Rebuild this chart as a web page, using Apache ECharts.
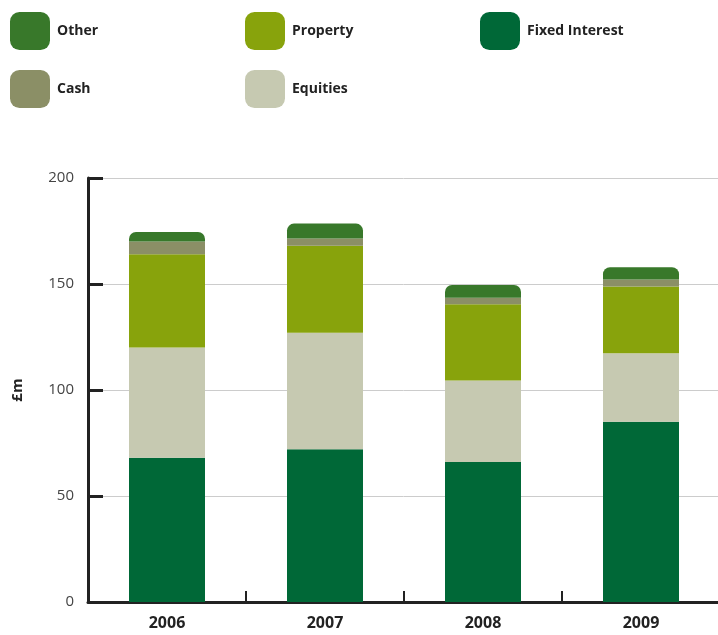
<!DOCTYPE html>
<html>
<head>
<meta charset="utf-8">
<script src="https://cdn.jsdelivr.net/npm/echarts@6/dist/echarts.min.js"></script>
<style>
html,body{margin:0;padding:0;background:#fff;}
#chart{width:718px;height:635px;}
</style>
</head>
<body>
<div id="chart"></div>
<script>
var categories = ['2006', '2007', '2008', '2009'];
var fixedInterest = [68, 72, 66, 85];
var equities = [52, 55, 38.5, 32.3];
var property = [44, 41, 36, 31.5];
var cash = [6, 3.5, 3, 3.3];
var other = [4.5, 7, 6, 5.8];
var yTicks = [0, 50, 100, 150, 200];

var colors = {
  'Other': '#38782A',
  'Property': '#88A30C',
  'Fixed Interest': '#006837',
  'Cash': '#8B8F66',
  'Equities': '#C6C9B1'
};

var chart = echarts.init(document.getElementById('chart'));
var FONT = '"Open Sans", "Noto Sans", sans-serif';

function legendAt(name, left, top) {
  return {
    data: [name],
    left: left, top: top,
    padding: 0,
    icon: 'roundRect',
    itemWidth: 40, itemHeight: 38,
    itemGap: 0,
    textStyle: { fontFamily: FONT, fontSize: 14, fontWeight: 'bold', color: '#222', padding: [8, 0, 0, 2] },
    selectedMode: false
  };
}

function bar(name, data, top) {
  var s = {
    name: name, type: 'bar', stack: 'total', data: data,
    barWidth: 76,
    itemStyle: { color: colors[name] },
    emphasis: { disabled: true }
  };
  if (top) s.itemStyle.borderRadius = [7, 7, 0, 0];
  return s;
}

chart.setOption({
  animation: false,
  legend: [
    legendAt('Other', 10, 12),
    legendAt('Property', 245, 12),
    legendAt('Fixed Interest', 480, 12),
    legendAt('Cash', 10, 70),
    legendAt('Equities', 245, 70)
  ],
  grid: { left: 88, top: 178, width: 632, bottom: 33, containLabel: false, outerBoundsMode: 'none' },
  xAxis: {
    type: 'category',
    data: categories,
    axisLine: { lineStyle: { color: '#222', width: 3 } },
    axisTick: { show: true, inside: true, length: 11, lineStyle: { color: '#222', width: 2 } },
    axisLabel: { fontFamily: FONT, fontSize: 16, fontWeight: 'bold', color: '#222', margin: 13 }
  },
  yAxis: {
    type: 'value',
    min: yTicks[0], max: yTicks[yTicks.length - 1], interval: 50,
    name: '£m',
    nameLocation: 'middle',
    nameRotate: 90,
    nameGap: 63,
    nameTextStyle: { fontFamily: FONT, fontSize: 15, fontWeight: 'bold', color: '#222' },
    axisLine: { show: true, lineStyle: { color: '#222', width: 3 } },
    axisTick: { show: true, inside: true, length: 15, lineStyle: { color: '#222', width: 3 } },
    axisLabel: { fontFamily: FONT, fontSize: 15, color: '#444', margin: 14 },
    splitLine: { lineStyle: { color: '#cccccc', width: 1 } }
  },
  series: [
    bar('Fixed Interest', fixedInterest),
    bar('Equities', equities),
    bar('Property', property),
    bar('Cash', cash),
    bar('Other', other, true)
  ]
});
</script>
</body>
</html>
